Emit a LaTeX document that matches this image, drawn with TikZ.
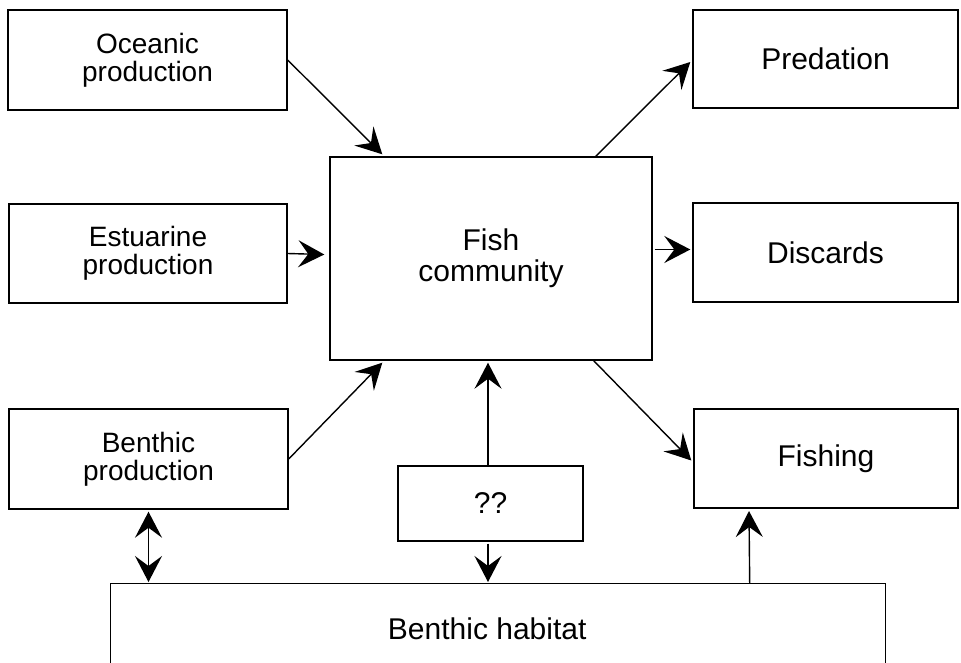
\documentclass[tikz,border=0pt]{standalone}
\usepackage{fontspec}
\setmainfont{Liberation Sans}
\usetikzlibrary{arrows.meta,calc}
\begin{document}
\begin{tikzpicture}[x=1pt,y=-1pt,
  box/.style={draw, line width=1.4pt, rectangle, inner sep=0pt, align=center},
  lbox/.style={box, font=\fontsize{28}{28}\selectfont},
  rbox/.style={box, font=\fontsize{30}{31}\selectfont},
  tip/.style={Stealth[length=26pt,width=27pt,inset=10pt]},
  conn/.style={line width=1.4pt, -{Stealth[length=26pt,width=27pt,inset=10pt]}},
  dconn/.style={line width=1.4pt, {Stealth[length=26pt,width=27pt,inset=10pt]}-{Stealth[length=26pt,width=27pt,inset=10pt]}}]
\clip (0,0) rectangle (961,662);
\fill[white] (0,0) rectangle (961,662);
% boxes
\node[lbox, minimum width=279pt, minimum height=100pt] (oce) at (147.5,60) {Oceanic\\production};
\node[lbox, minimum width=278pt, minimum height=99pt] (est) at (148,253.5) {Estuarine\\production};
\node[lbox, minimum width=279pt, minimum height=100pt] (bpr) at (148.5,459) {Benthic\\production};
\node[rbox, minimum width=322pt, minimum height=203pt] (fish) at (491,258.5) {Fish\\community};
\node[rbox, minimum width=265pt, minimum height=98pt] (pred) at (825.5,59) {\raisebox{-3pt}{Predation}};
\node[rbox, minimum width=265pt, minimum height=99pt] (disc) at (825.5,252.5) {Discards};
\node[rbox, minimum width=264pt, minimum height=99pt] (fishg) at (826,458.5) {Fishing};
\node[rbox, minimum width=185pt, minimum height=75pt] (qq) at (490.5,503.5) {??};
\node[rbox, minimum width=775pt, minimum height=90pt, anchor=north west] (hab) at (110,583) {\hspace*{-22pt}Benthic habitat};
% connectors
\draw[conn] (oce.east) -- ($(fish.north west)+(53,-2)$);
\draw[conn] (est.east) -- ($(fish.west)+(-5,-4)$);
\draw[conn] (bpr.east) -- ($(fish.south west)+(53,2)$);
\draw[conn] ($(fish.north east)+(-57,0)$) -- ($(pred.west)+(-2,3)$);
\draw[conn] ($(fish.east)+(2,-9)$) -- ($(disc.west)+(-2,-3)$);
\draw[conn] ($(fish.south east)+(-59,0)$) -- ($(fishg.west)+(-2,2)$);
\draw[conn] ($(qq.north)+(-2.5,0)$) -- ($(qq.north |- fish.south)+(-2.5,2)$);
\draw[conn] ($(qq.south)+(-2.5,2)$) -- ($(qq.south |- hab.north)+(-2.5,-1)$);
\draw[dconn] ($(bpr.south)+(0,2)$) -- ($(bpr.south |- hab.north)+(0,-1)$);
\draw[conn] ($(hab.north)+(251.5,0)$) -- ($(hab.north -| fishg.south)+(-77,-72)$);
\end{tikzpicture}
\end{document}
